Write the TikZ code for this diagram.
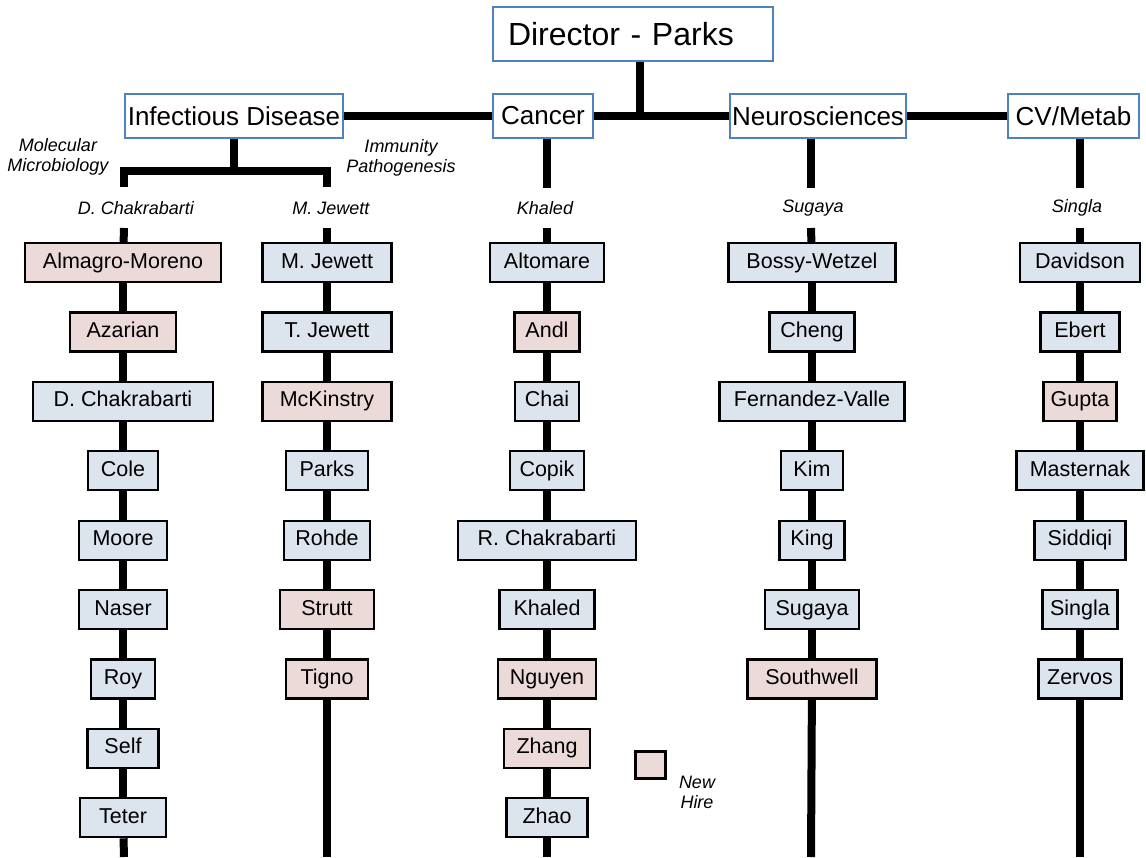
\documentclass[tikz,border=0pt]{standalone}
\usepackage{fontspec}
\setmainfont{Liberation Sans}
\usetikzlibrary{backgrounds}

\definecolor{topblue}{RGB}{79,129,189}
\definecolor{staff}{RGB}{220,228,238}
\definecolor{hire}{RGB}{236,218,216}

\tikzset{
  unit/.style={draw=topblue, line width=1.6pt, fill=white, minimum height=44pt,
               inner sep=0pt, font=\fontsize{26}{30}\selectfont},
  person/.style={draw=black, line width=2.2pt, minimum height=39pt, inner sep=0pt,
                 text height=15pt, text depth=4pt, font=\fontsize{21.5}{25}\selectfont},
  link/.style={line width=8pt},
  lab/.style={font=\fontsize{18}{20}\selectfont\itshape, align=center, inner sep=0pt},
}

\begin{document}
\begin{tikzpicture}[x=1pt,y=-1pt]
 \useasboundingbox (0,0) rectangle (1146,857);

 % units
 \node[unit, font=\fontsize{32}{38}\selectfont, minimum width=280pt, minimum height=54pt,
       text width=250pt, align=left] (dir) at (633,34) {Director - Parks};
 \node[unit, minimum width=218pt] (inf) at (234,116) {Infectious Disease};
 \node[unit, minimum width=100pt] (can) at (543,116) {Cancer};
 \node[unit, minimum width=176pt] (neu) at (818,116) {Neurosciences};
 \node[unit, minimum width=131pt] (cv) at (1073.5,116) {CV/Metab};

 % group heads
 \node[lab] (molmic) at (58,157) {Molecular\\Microbiology};
 \node[lab] (immpat) at (401,158) {Immunity\\Pathogenesis};
 \node[lab] (idhead) at (136,208) {D. Chakrabarti};
 \node[lab] (mjhead) at (331,208) {M. Jewett};
 \node[lab] (cahead) at (545,208) {Khaled};
 \node[lab] (nehead) at (813,208) {Sugaya};
 \node[lab] (cvhead) at (1077,208) {Singla};

 % faculty columns
 \foreach \nm/\w/\k [count=\i] in {Almagro-Moreno/196/hire, Azarian/106/hire,
     D. Chakrabarti/180/staff, Cole/70/staff, Moore/88/staff, Naser/88/staff,
     Roy/64/staff, Self/71/staff, Teter/86/staff}
   \node[person, fill=\k, minimum width=\w pt] (id\i) at (123,{262.5+69.4*(\i-1)}) {\nm};
 \foreach \nm/\w/\k [count=\i] in {M. Jewett/129/staff, T. Jewett/129/staff,
     McKinstry/129/hire, Parks/82/staff, Rohde/86/staff, Strutt/94/hire, Tigno/82/hire}
   \node[person, fill=\k, minimum width=\w pt] (mj\i) at (327,{262.5+69.4*(\i-1)}) {\nm};
 \foreach \nm/\w/\k [count=\i] in {Altomare/114/staff, Andl/65/hire, Chai/64/staff,
     Copik/74/staff, R. Chakrabarti/178/staff, Khaled/95/staff, Nguyen/98/hire,
     Zhang/86/hire, Zhao/81/staff}
   \node[person, fill=\k, minimum width=\w pt] (ca\i) at (547,{262.5+69.4*(\i-1)}) {\nm};
 \foreach \nm/\w/\k [count=\i] in {Bossy-Wetzel/167/staff, Cheng/85/staff,
     Fernandez-Valle/185/staff, Kim/62/staff, King/65/staff, Sugaya/94/staff,
     Southwell/129/hire}
   \node[person, fill=\k, minimum width=\w pt] (ne\i) at (812,{262.5+69.4*(\i-1)}) {\nm};
 \foreach \nm/\w/\k [count=\i] in {Davidson/120/staff, Ebert/79/staff, Gupta/73/hire,
     Masternak/127/staff, Siddiqi/91/staff, Singla/75/staff, Zervos/83/staff}
   \node[person, fill=\k, minimum width=\w pt] (cv\i) at (1080,{262.5+69.4*(\i-1)}) {\nm};

 % legend
 \node[draw, line width=3pt, fill=hire, minimum width=30pt, minimum height=27pt,
       inner sep=0pt] (key) at (650.5,764.5) {};
 \node[lab] (keytext) at (697,792) {New\\Hire};

 % fork and column ends
 \coordinate (split) at (234,171);
 \coordinate (id-fork) at (124,187);
 \coordinate (mj-fork) at (327,187);
 \coordinate (ca-fork) at (547,188);
 \coordinate (ne-fork) at (811,188);
 \coordinate (cv-fork) at (1080,188);
 \foreach \col/\x in {id/124,mj/327,ca/547,ne/811,cv/1080}{
   \coordinate (\col-top) at (\x,228);
   \coordinate (\col-end) at (\x,857);
 }

 \begin{scope}[on background layer]
  \draw[link] (inf) -- (cv);
  \draw[link] ([xshift=7pt]dir.south) -- ([xshift=7pt]dir.south |- can);
  \draw[link] (inf) -- (split);
  \draw[link] (id-fork) |- (split) -| (mj-fork);
  \draw[link] (can.south -| ca-fork) -- (ca-fork);
  \draw[link] (neu.south -| ne-fork) -- (ne-fork);
  \draw[link] (cv.south -| cv-fork) -- (cv-fork);
  \foreach \col/\n in {id/9,mj/7,ca/9,ne/7,cv/7}{
    \draw[link] (\col-top) -- (\col1);
    \foreach \i [remember=\i as \j (initially 1)] in {2,...,\n}
      \draw[link] (\col\j) -- (\col\i);
    \draw[link] (\col\n) -- (\col-end);
  }
 \end{scope}
\end{tikzpicture}
\end{document}
